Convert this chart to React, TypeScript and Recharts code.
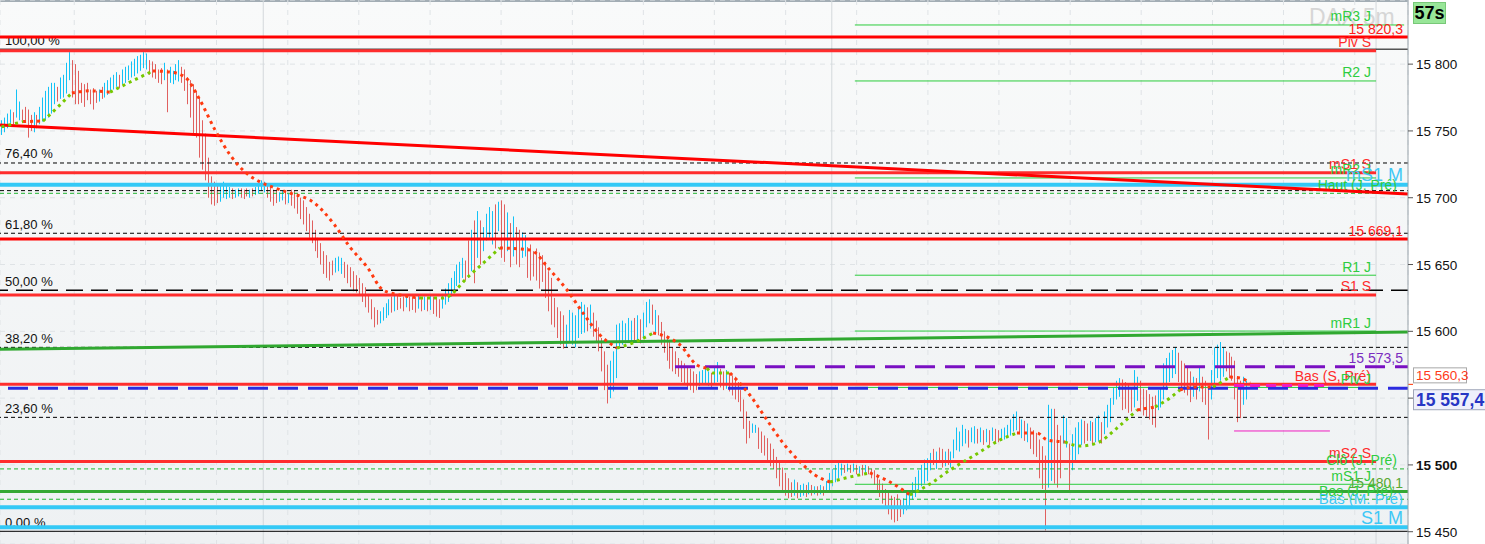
import React from 'react';
import { ComposedChart, Bar, Line, XAxis, YAxis, CartesianGrid, ReferenceLine } from 'recharts';

const FONT = '"Liberation Sans", Arial, sans-serif';

// ---- price bars (5 min) ----
const BAR_HIGH = [
  15758,15760,15763,15766,15764,15781,15772,15766,15768,15766,
  15762,15764,15762,15768,15775,15780,15783,15786,15786,15783,
  15790,15792,15801,15809,15803,15800,15795,15786,15785,15786,
  15781,15782,15780,15781,15783,15786,15788,15790,15792,15794,
  15792,15796,15798,15799,15802,15804,15806,15807,15809,15808,
  15803,15802,15800,15796,15797,15801,15796,15798,15795,15800,
  15803,15798,15796,15790,15788,15785,15780,15775,15758,15748,
  15730,15716,15712,15710,15709,15712,15710,15708,15707,15706,
  15707,15707,15706,15707,15706,15707,15708,15711,15713,15712,
  15710,15708,15706,15705,15704,15705,15704,15703,15706,15705,
  15702,15700,15698,15693,15688,15683,15676,15670,15666,15660,
  15657,15652,15653,15655,15656,15655,15652,15650,15648,15645,
  15642,15640,15636,15633,15628,15624,15618,15616,15615,15618,
  15621,15624,15626,15628,15627,15625,15626,15627,15626,15625,
  15626,15627,15624,15626,15625,15627,15626,15625,15624,15628,
  15632,15636,15640,15645,15650,15652,15655,15653,15668,15676,
  15683,15690,15683,15678,15688,15693,15690,15695,15697,15698,
  15695,15689,15681,15686,15678,15676,15674,15672,15663,15665,
  15660,15662,15659,15657,15652,15645,15640,15625,15618,15615,
  15612,15605,15616,15614,15612,15618,15622,15620,15618,15620,
  15614,15608,15603,15595,15585,15575,15578,15585,15605,15606,
  15608,15606,15610,15608,15610,15612,15609,15614,15622,15624,
  15620,15616,15612,15607,15600,15596,15593,15588,15585,15580,
  15578,15576,15574,15572,15570,15568,15570,15571,15572,15570,
  15569,15573,15577,15572,15570,15571,15569,15567,15566,15562,
  15556,15549,15540,15533,15531,15530,15528,15525,15522,15520,
  15516,15512,15506,15502,15498,15494,15490,15487,15489,15487,
  15485,15486,15485,15487,15485,15484,15484,15485,15484,15488,
  15494,15497,15500,15502,15501,15500,15501,15500,15501,15500,
  15499,15500,15500,15499,15497,15496,15493,15489,15486,15482,
  15479,15477,15476,15478,15474,15475,15479,15481,15487,15491,
  15496,15500,15504,15505,15509,15512,15510,15513,15512,15510,
  15512,15510,15519,15528,15525,15530,15527,15526,15528,15529,
  15527,15528,15526,15527,15526,15528,15527,15526,15527,15528,
  15530,15534,15538,15540,15536,15534,15533,15531,15528,15526,
  15524,15519,15514,15507,15545,15542,15542,15530,15522,15537,
  15535,15516,15523,15528,15532,15534,15533,15531,15533,15532,
  15535,15537,15532,15540,15545,15550,15558,15563,15565,15564,
  15562,15560,15557,15571,15566,15563,15557,15556,15553,15551,
  15552,15556,15558,15576,15580,15584,15586,15588,15584,15578,
  15576,15574,15570,15566,15565,15574,15566,15563,15557,15571,
  15588,15590,15592,15588,15585,15584,15581,15578,15566,15563,
  15566,15563,
];
const BAR_LOW = [
  15747,15749,15752,15756,15755,15760,15758,15758,15756,15745,
  15750,15749,15752,15755,15757,15758,15760,15763,15770,15772,
  15774,15775,15778,15788,15775,15770,15770,15771,15768,15773,
  15770,15766,15771,15772,15774,15775,15777,15779,15781,15783,
  15782,15785,15786,15788,15790,15791,15793,15795,15797,15796,
  15792,15790,15789,15786,15785,15788,15764,15786,15785,15788,
  15787,15786,15780,15770,15760,15748,15745,15730,15721,15713,
  15700,15695,15694,15696,15697,15700,15699,15700,15699,15700,
  15701,15700,15699,15701,15700,15701,15702,15703,15705,15704,
  15700,15697,15694,15696,15697,15698,15695,15696,15694,15692,
  15688,15684,15680,15675,15670,15666,15660,15655,15650,15643,
  15640,15638,15642,15644,15645,15643,15640,15636,15633,15630,
  15629,15627,15622,15618,15614,15609,15603,15605,15606,15608,
  15610,15612,15614,15615,15616,15617,15615,15618,15615,15616,
  15614,15617,15615,15616,15615,15616,15613,15611,15610,15617,
  15620,15622,15626,15630,15634,15636,15640,15638,15640,15645,
  15636,15655,15650,15660,15668,15670,15665,15662,15675,15655,
  15652,15660,15648,15656,15650,15648,15655,15656,15640,15638,
  15641,15638,15632,15637,15625,15615,15605,15603,15595,15590,
  15587,15588,15592,15590,15588,15595,15598,15599,15600,15602,
  15596,15592,15585,15570,15556,15546,15550,15555,15565,15588,
  15590,15591,15592,15590,15593,15592,15591,15595,15603,15606,
  15605,15598,15597,15590,15584,15578,15572,15570,15568,15566,
  15562,15560,15558,15556,15554,15556,15559,15560,15561,15559,
  15558,15561,15562,15558,15556,15557,15555,15552,15549,15547,
  15540,15527,15516,15520,15524,15524,15512,15509,15507,15502,
  15499,15497,15490,15484,15481,15477,15475,15476,15477,15475,
  15476,15477,15476,15478,15477,15478,15477,15478,15477,15479,
  15481,15484,15487,15490,15492,15494,15495,15494,15495,15493,
  15494,15492,15494,15493,15490,15485,15481,15476,15471,15468,
  15463,15459,15457,15458,15461,15463,15466,15468,15474,15476,
  15481,15484,15486,15488,15496,15500,15497,15502,15498,15499,
  15500,15498,15505,15511,15510,15514,15516,15513,15517,15516,
  15516,15517,15515,15517,15515,15518,15516,15517,15518,15519,
  15520,15522,15525,15526,15523,15520,15518,15517,15512,15508,
  15506,15490,15482,15451,15483,15488,15486,15483,15490,15516,
  15513,15481,15496,15502,15508,15515,15516,15518,15518,15515,
  15517,15518,15516,15523,15528,15532,15545,15549,15551,15541,
  15542,15539,15540,15543,15548,15540,15537,15536,15534,15530,
  15528,15541,15543,15549,15556,15562,15565,15568,15562,15556,
  15554,15552,15547,15551,15549,15555,15547,15545,15519,15549,
  15561,15565,15563,15566,15570,15565,15563,15549,15532,15535,
  15545,15549,
];
// 1 = rising bar, 0 = falling bar
const BAR_UP = [
  1,1,1,1,0,1,1,0,0,0, 0,1,0,1,1,1,1,1,1,0, 1,1,1,1,0,0,0,0,0,0, 0,0,0,1,0,1,1,1,1,1,
  0,1,1,1,1,1,1,1,1,1, 0,0,0,0,0,1,0,1,1,1, 1,0,0,0,0,0,0,0,0,0, 0,0,0,0,1,1,1,1,0,1,
  1,0,0,0,1,0,1,1,1,1, 0,0,0,0,1,1,0,1,0,0, 0,0,0,0,0,0,0,0,0,0, 0,0,0,1,1,1,0,0,0,0,
  0,0,0,0,0,0,0,0,1,1, 1,1,0,1,0,0,0,1,0,0, 0,1,0,1,0,1,0,0,0,1, 1,1,1,1,1,1,1,0,0,1,
  0,1,0,1,1,1,1,0,1,0, 0,1,0,1,0,0,1,1,0,0, 0,0,0,0,0,0,0,0,0,0, 0,1,1,1,1,1,1,1,0,1,
  0,0,0,0,0,0,1,1,1,1, 1,1,1,1,0,1,0,1,1,1, 0,1,0,0,0,0,0,0,0,0, 0,0,0,0,0,0,1,1,1,1,
  0,1,1,0,0,1,0,0,0,0, 0,0,0,0,1,1,0,0,0,0, 0,0,0,0,0,0,0,0,1,0, 1,1,0,1,0,1,0,1,0,1,
  1,1,1,1,1,0,1,0,1,0, 1,0,1,0,0,0,0,0,0,0, 0,0,0,0,0,1,1,1,1,1, 1,1,1,1,1,0,1,0,0,1,
  0,1,1,1,1,1,1,0,1,1, 0,1,0,1,0,1,0,0,1,1, 1,1,1,1,0,1,0,1,0,0, 0,0,0,0,1,1,0,0,0,1,
  1,0,1,1,1,1,0,0,1,0, 1,1,0,1,1,1,1,1,1,0, 0,0,0,1,1,0,0,0,0,0, 0,1,1,1,1,1,1,1,0,0,
  0,0,0,1,0,1,0,0,0,1, 1,1,1,1,0,0,0,0,0,0, 1,1,
];

// ---- moving average, split by slope ----
const MA_SEGMENTS: [string, number[][]][] = [
  ['up', [[0,15753],[7.3,15757]]],
  ['down', [[7.3,15757],[14,15757.4]]],
  ['up', [[14,15757.4],[19.1,15768],[23.8,15778.4]]],
  ['down', [[23.8,15778.4],[29.9,15780],[36.7,15779]]],
  ['up', [[36.7,15779],[43.5,15786.6],[51.2,15794.9]]],
  ['down', [[51.2,15794.9],[57,15794.1],[62,15790.4],[67.1,15773.1],[72.2,15750.7],[77.3,15732],[82.3,15719.3],[87.4,15711.8],[92.5,15707.3],[97.5,15703.5],[100.9,15701.3],[104.3,15698.3],[112.1,15681.1],[117.8,15663.1],[123.6,15648.2],[129,15630.9],[134.7,15627.2],[141.5,15624.9]]],
  ['up', [[141.5,15624.9],[149.3,15624.9],[158.4,15642.2],[168.5,15662.4]]],
  ['down', [[168.5,15662.4],[178.7,15660.9],[185.4,15645.9],[191.2,15630.9],[196.6,15613.7],[202.3,15597.3],[208.1,15587.5]]],
  ['up', [[208.1,15587.5],[214.2,15592],[220.3,15598.7]]],
  ['down', [[220.3,15598.7],[225,15595.8],[229.4,15589.8],[235.1,15574.8],[238.5,15572.5]]],
  ['up', [[238.5,15572.5],[240.5,15568.8],[246.3,15568.8]]],
  ['down', [[246.3,15568.8],[253,15552.3],[258.8,15533.6],[264.2,15516.4],[270,15502.2],[275,15492.5],[280.1,15487.2]]],
  ['up', [[280.1,15487.2],[286.9,15491],[293.6,15494]]],
  ['down', [[293.6,15494],[300.4,15487.2],[307.1,15477.5]]],
  ['up', [[307.1,15477.5],[313.9,15485.7],[320.7,15496.2],[329.1,15507.4],[337.6,15518.7],[343.3,15523.9]]],
  ['down', [[343.3,15523.9],[350.1,15523.9],[353.5,15518.7],[359.5,15517.2]]],
  ['up', [[359.5,15517.2],[364.6,15514.2],[370.4,15516.4],[377.1,15527.6],[383.9,15541.1]]],
  ['down', [[383.9,15541.1],[390,15543.4]]],
  ['up', [[390,15543.4],[395,15550.1],[398.4,15556.1]]],
  ['down', [[398.4,15556.1],[403.5,15558.3],[409.6,15558.3]]],
  ['up', [[409.6,15558.3],[415.3,15565.8]]],
  ['down', [[415.3,15565.8],[418.7,15565.1],[422.1,15561.3]]],
];

// ---- axes ----
const Y_DOMAIN = [15440.8, 15848];
const X_DOMAIN = [-0.5, 475.5];
const Y_TICKS = [15450, 15500, 15550, 15600, 15650, 15700, 15750, 15800];
const TIME_GRID = [0.6, 24.6, 48.7, 72.7, 96.8, 120.8, 144.9, 168.9, 193, 217, 241, 265.1, 289.1, 313.2, 337.2, 361.3, 385.3, 409.4, 433.4, 457.5];
const DAY_BREAKS = [88.5, 280.7, 464.7];

// ---- Fibonacci retracement ----
const FIB_VALUES = [15811.2, 15726.0, 15673.4, 15630.7, 15588.0, 15535.6, 15450.3];
const FIB_LABELS = ['100,00 %', '76,40 %', '61,80 %', '50,00 %', '38,20 %', '23,60 %', '0,00 %'];

// ---- pivot / level lines ----
const LEVEL_NAMES = ['mR3 J', '', 'Piv S', 'R2 J', 'mS1 S', 'mR2 J', 'mS1 M', '', 'Haut (J. Pré)', '', 'R1 J', 'S1 S', 'mR1 J', '', 'Bas (S, Pré)', 'Piv J', 'mS2 S', 'Clô (J. Pré)', 'mS1 J', '', 'Bas (J. Pré)', 'Bas (M. Pré)', 'S1 M'];
const LEVEL_VALUES = [15829.3, 15820.3, 15810.0, 15787.4, 15718.7, 15714.8, 15709.7, 15705.3, 15703.3, 15669.1, 15642.0, 15627.2, 15600.2, 15573.5, 15560.3, 15558.0, 15502.5, 15497.0, 15485.5, 15480.1, 15474.3, 15468.3, 15453.3];
const LEVEL_KINDS = ['green', 'redStrong', 'red', 'green', 'red', 'green', 'cyan', 'blackDash', 'greenDash', 'redStrong', 'green', 'red', 'green', 'purple', 'red', 'green', 'red', 'greenDash', 'green', 'greenThick', 'greenDash', 'cyan', 'cyan'];
const LEVEL_FROM = [288.5, -0.5, -0.5, 288.5, -0.5, 288.5, -0.5, -0.5, -0.5, -0.5, 288.5, -0.5, 288.5, 227.7, -0.5, 288.5, -0.5, -0.5, 288.5, -0.5, -0.5, -0.5, -0.5];
const LEVEL_TO = [474.2, 475.5, 464.7, 464.7, 464.7, 464.7, 475.5, 475.5, 475.5, 475.5, 464.7, 464.7, 464.7, 475.5, 464.7, 464.7, 464.7, 475.5, 464.7, 475.5, 475.5, 475.5, 475.5];
const AXIS_BOX_LEVEL = 15560.3;
const CURRENT_PRICE = 15557.4;
const MAGENTA_VALUES = [15559.5, 15525.4];
const MAGENTA_FROM = [416.7, 416.7];
const MAGENTA_TO = [449.1, 449.1];

const TREND_RED = [[-0.5, 15754.4], [475.5, 15702.8]];
const TREND_GREEN = [[-0.5, 15586.5], [475.5, 15599.5]];

// ---- styles ----
const UP_COLOR = '#12c2f6';
const DOWN_COLOR = '#e0605f';
const KIND_STYLE: Record<string, any> = {
  green: { stroke: '#2bcc3c', w: 1, text: '#2ecc40', size: 14, xEnd: 1371 },
  red: { stroke: '#ff2d2d', w: 3, text: '#ff2b2b', size: 14, xEnd: 1371 },
  redStrong: { stroke: '#ff0000', w: 3, text: '#ff1a1a', size: 14, xEnd: 1403 },
  cyan: { stroke: '#33c9f6', w: 4, text: '#3ec8f6', size: 18, xEnd: 1403 },
  greenDash: { stroke: '#1fb52f', w: 1, dash: '4 3', text: '#2ecc40', size: 14, xEnd: 1397 },
  greenThick: { stroke: '#34a833', w: 3, text: '#5aa832', size: 14, xEnd: 1403 },
  purple: { stroke: '#7a10c2', w: 3, dash: '20 10', text: '#7a2cc0', size: 14, xEnd: 1403 },
  blackDash: { stroke: '#000', w: 1, dash: '4 3', text: '#000', size: 14, xEnd: 1403 },
};
const LABEL_TWEAK: Record<string, any> = {
  'Bas (M. Pré)': { size: 15 },
  'Bas (J. Pré)': { xEnd: 1393 },
};
const FIB_DASH = [undefined, '4 3', '4 3', '17 8', '4 3', '4 3', undefined];

function fmt(v: number, dec: number) {
  const s = v.toFixed(dec);
  const [a, b] = s.split('.');
  const g = a.replace(/\B(?=(\d{3})+(?!\d))/g, ' ');
  return b ? g + ',' + b : g;
}

const vbY = (p: any) => {
  const vb = p.viewBox || {};
  return vb.y ?? vb.y1 ?? 0;
};

const rightLabel = (text: string, color: string, xEnd: number, size: number) => (p: any) => (
  <text x={xEnd} y={vbY(p) - 3.5} textAnchor="end" fill={color} fontSize={size} fontFamily={FONT}>{text}</text>
);

const leftLabel = (text: string) => (p: any) => (
  <text x={5} y={vbY(p) - 4.5} textAnchor="start" fill="#111" fontSize={13} fontFamily={FONT}>{text}</text>
);

const axisBoxLabel = (text: string, withName: any) => (p: any) => {
  const y = vbY(p);
  return (
    <g>
      {withName}
      <line x1={1408} x2={1413} y1={y} y2={y} stroke="#ff3300" strokeWidth={1} />
      <rect x={1413.5} y={y - 16.5} width={53} height={15} fill="#ffffff" stroke="#a8a8a8" />
      <text x={1416} y={y - 4} fill="#ff3a1a" fontSize={13.5} fontFamily={FONT}>{text}</text>
    </g>
  );
};

const currentLabel = (text: string) => (p: any) => {
  const y = vbY(p);
  return (
    <g>
      <rect x={1413.5} y={y + 1.5} width={75} height={20} fill="#eef0fb" stroke="#a0a6b8" />
      <text x={1416} y={y + 18} fill="#2636c4" fontSize={17.5} fontWeight="bold" fontFamily={FONT}>{text}</text>
    </g>
  );
};

const AxisTick = (props: any) => {
  const { x, y, payload } = props;
  if (payload.value === 15550) return <g />;
  return (
    <text x={x + 1} y={y + 5} textAnchor="start" fill="#111" fontSize={13.5} fontFamily={FONT}
      fontWeight={payload.value === 15500 ? 'bold' : 'normal'}>{fmt(payload.value, 0)}</text>
  );
};

const PriceBar = (p: any) => {
  const up = p.payload ? p.payload.up : p.up;
  const y = Math.min(p.y, p.y + p.height);
  const h = Math.max(Math.abs(p.height), 1);
  return <rect x={Math.round(p.x + p.width / 2 - 0.5)} y={y} width={1} height={h} fill={up ? UP_COLOR : DOWN_COLOR} />;
};

const bars = BAR_HIGH.map((h, i) => ({ i, range: [BAR_LOW[i], h], up: BAR_UP[i] === 1 }));

export default function App() {
  return (
    <div style={{ position: 'absolute', left: 0, top: 0, width: 1485, height: 544, background: '#ffffff', overflow: 'hidden' }}>
      <div style={{ position: 'absolute', left: 0, top: 0, width: 1408, height: 544, boxSizing: 'border-box', background: 'linear-gradient(#f9fafa, #eef1f3)', borderTop: '2px solid #a3adb4' }} />
      <svg width={1485} height={544} style={{ position: 'absolute', left: 0, top: 0 }}>
        <text x={1309} y={25} fill="#d6d6d6" fontSize={23} fontFamily={FONT}>DAX 5m</text>
      </svg>
      <div style={{ position: 'absolute', left: 0, top: 0 }}>
        <ComposedChart width={1485} height={544} data={bars} margin={{ top: 0, right: 0, bottom: 0, left: 0 }}>
          <CartesianGrid stroke="#dfe3e6" strokeDasharray="5 5" />
          <XAxis dataKey="i" type="number" domain={X_DOMAIN} ticks={TIME_GRID} hide allowDataOverflow />
          <YAxis orientation="right" type="number" domain={Y_DOMAIN} ticks={Y_TICKS} width={77} allowDataOverflow
            tick={AxisTick} tickSize={5} tickLine={{ stroke: '#555' }} axisLine={{ stroke: '#9aa4ab' }} />
          {DAY_BREAKS.map((x) => (
            <ReferenceLine key={'d' + x} x={x} stroke="#d3d8db" strokeWidth={1} />
          ))}
          <Bar dataKey="range" barSize={1} shape={PriceBar} isAnimationActive={false} />
          {FIB_VALUES.map((v, k) => (
            <ReferenceLine key={'f' + k} y={v} stroke="#000" strokeWidth={FIB_DASH[k] === '17 8' ? 1.5 : 1}
              strokeDasharray={FIB_DASH[k]} label={leftLabel(FIB_LABELS[k])} />
          ))}
          {LEVEL_VALUES.map((v, k) => {
            const kind = LEVEL_KINDS[k];
            const st = { ...KIND_STYLE[kind], ...(LABEL_TWEAK[LEVEL_NAMES[k]] || {}) };
            const text = LEVEL_NAMES[k] || (kind === 'blackDash' ? '' : fmt(v, 1));
            let label: any = text ? rightLabel(text, st.text, st.xEnd, st.size) : undefined;
            if (v === AXIS_BOX_LEVEL) {
              const inner = rightLabel(text, st.text, st.xEnd, st.size);
              label = (p: any) => axisBoxLabel(fmt(v, 1), inner(p))(p);
            }
            return (
              <ReferenceLine key={'l' + k}
                segment={[{ x: LEVEL_FROM[k], y: v }, { x: LEVEL_TO[k], y: v }]}
                stroke={st.stroke} strokeWidth={st.w} strokeDasharray={st.dash} label={label} />
            );
          })}
          <ReferenceLine y={CURRENT_PRICE} stroke="#2b2be0" strokeWidth={3} strokeDasharray="20 10"
            label={currentLabel(fmt(CURRENT_PRICE, 1))} />
          {MAGENTA_VALUES.map((v, k) => (
            <ReferenceLine key={'m' + k} segment={[{ x: MAGENTA_FROM[k], y: v }, { x: MAGENTA_TO[k], y: v }]}
              stroke="#f01cc0" strokeWidth={k === 0 ? 3 : 1} strokeDasharray={k === 0 ? '10 6' : undefined} />
          ))}
          <ReferenceLine segment={TREND_RED.map(([x, y]) => ({ x, y }))} stroke="#ff0000" strokeWidth={3} />
          <ReferenceLine segment={TREND_GREEN.map(([x, y]) => ({ x, y }))} stroke="#30a830" strokeWidth={3} />
          {MA_SEGMENTS.map(([trend, pts], k) => (
            <Line key={'ma' + k} data={pts.map(([i, v]) => ({ i, v }))} dataKey="v" type="monotone"
              stroke={trend === 'up' ? '#76c800' : '#ff3a10'} strokeWidth={3} strokeDasharray="3 4"
              dot={false} activeDot={false} isAnimationActive={false} />
          ))}
        </ComposedChart>
      </div>
      <div style={{ position: 'absolute', left: 1413, top: 2, width: 33, height: 22, background: '#98e698', border: '1px solid #78c878', boxSizing: 'border-box', fontFamily: FONT, fontWeight: 'bold', fontSize: 18, lineHeight: '20px', textAlign: 'center', color: '#000' }}>57s</div>
    </div>
  );
}
